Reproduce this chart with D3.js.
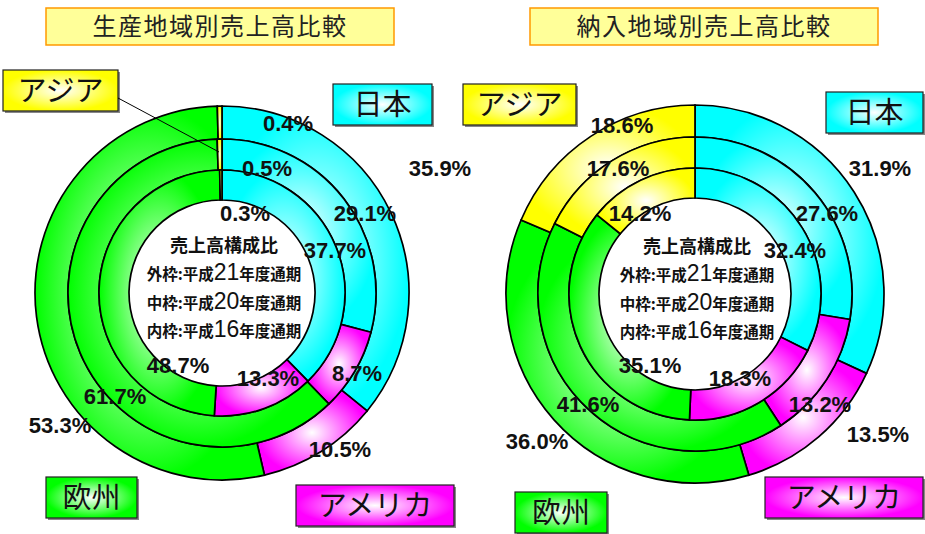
<!DOCTYPE html>
<html>
<head>
<meta charset="utf-8">
<script src="https://cdn.jsdelivr.net/npm/d3@7.9.0/dist/d3.min.js"></script>
<style>
  body { margin: 0; background: #fff; }
  svg { display: block; }
</style>
</head>
<body>
<svg id="chart" width="925" height="534"></svg>
<script>
// regions, clockwise from 12 o'clock
const regions = ['日本', 'アメリカ', '欧州', 'アジア'];
const ringNames = ['外枠', '中枠', '内枠'];
const ringYears = ['21', '20', '16'];

// 生産地域別 (outer: H21, middle: H20, inner: H16)
const seisanH21 = [35.9, 10.5, 53.3, 0.4];
const seisanH20 = [29.1, 8.7, 61.7, 0.5];
const seisanH16 = [37.7, 13.3, 48.7, 0.3];

// 納入地域別
const nounyuH21 = [31.9, 13.5, 36.0, 18.6];
const nounyuH20 = [27.6, 13.2, 41.6, 17.6];
const nounyuH16 = [32.4, 18.3, 35.1, 14.2];

const regionColors = ['#00ffff', '#ff00ff', '#00ff00', '#ffff00'];

const svg = d3.select('#chart');
const defs = svg.append('defs');

const pie = d3.pie().sort(null).value(d => d);

let gradId = 0;
function radialGrad(color, inner) {
  let id = 'g' + (gradId++);
  let g = defs.append('radialGradient').attr('id', id);
  g.append('stop').attr('offset', '0%').attr('stop-color', inner || '#ffffff');
  g.append('stop').attr('offset', '100%').attr('stop-color', color);
  return 'url(#' + id + ')';
}

// label offsets from chart centre [ring][region]
const seisanLabelPos = [
  [[218, -125], [118, 156], [-162, 132], [66, -170]],
  [[143, -80], [135, 80], [-107, 103], [45, -125]],
  [[113, -43], [46, 85], [-44, 72], [23, -80]]
];
const nounyuLabelPos = [
  [[185, -126], [183, 140], [-158, 147], [-73, -169]],
  [[132, -81], [125, 110], [-107, 110], [-77, -126]],
  [[100, -44], [45, 84], [-45, 71], [-55, -81]]
];

function drawChart(cfg) {
  let g = svg.append('g').attr('transform', `translate(${cfg.cx},${cfg.cy})`);
  let radii = cfg.radii;
  cfg.rings.forEach((vals, ri) => {
    let arc = d3.arc().innerRadius(radii[ri + 1]).outerRadius(radii[ri]);
    g.selectAll(null)
      .data(pie(vals))
      .enter()
      .append('path')
      .attr('d', arc)
      .attr('fill', (d, i) => radialGrad(regionColors[i]))
      .attr('stroke', '#000')
      .attr('stroke-width', 1.7);
  });

  // percentage labels
  cfg.rings.forEach((vals, ri) => {
    vals.forEach((v, i) => {
      let p = cfg.labelPos[ri][i];
      g.append('text')
        .attr('x', p[0]).attr('y', p[1])
        .attr('text-anchor', 'middle')
        .attr('dominant-baseline', 'central')
        .attr('font-family', '"Liberation Sans", Arial, sans-serif')
        .attr('font-weight', 'bold')
        .attr('font-size', 22)
        .attr('fill', '#111')
        .text(v.toFixed(1) + '%');
    });
  });

  // centre caption
  g.append('text')
    .attr('x', 2).attr('y', -41)
    .attr('text-anchor', 'middle')
    .attr('font-family', '"Noto Sans CJK JP", sans-serif')
    .attr('font-weight', 'bold')
    .attr('font-size', 18)
    .attr('fill', '#111')
    .text('売上高構成比');
  ringNames.forEach((n, i) => {
    let t = g.append('text')
      .attr('x', 2).attr('y', -13 + i * 28.5)
      .attr('text-anchor', 'middle')
      .attr('font-family', '"Noto Sans CJK JP", sans-serif')
      .attr('font-weight', 'bold')
      .attr('font-size', 15.5)
      .attr('fill', '#111');
    t.append('tspan').text(n + ':平成');
    t.append('tspan')
      .attr('font-family', '"Liberation Sans", Arial, sans-serif')
      .attr('font-weight', 'normal')
      .attr('font-size', 23)
      .text(ringYears[i]);
    t.append('tspan').text('年度通期');
  });

  // title box
  svg.append('rect')
    .attr('x', cfg.title.x).attr('y', 8)
    .attr('width', 348).attr('height', 37)
    .attr('fill', '#ffff99')
    .attr('stroke', '#ff9900')
    .attr('stroke-width', 1.5);
  svg.append('text')
    .attr('x', cfg.title.x + 174).attr('y', 35)
    .attr('text-anchor', 'middle')
    .attr('font-family', '"Noto Sans CJK JP", sans-serif')
    .attr('font-size', 24)
    .attr('letter-spacing', 1.5)
    .attr('fill', '#222')
    .text(cfg.title.text);

  // region label boxes
  cfg.boxes.forEach((b, i) => {
    svg.append('rect')
      .attr('x', b[0] + 2).attr('y', b[1] + 2)
      .attr('width', b[2]).attr('height', 41)
      .attr('fill', '#888');
    svg.append('rect')
      .attr('x', b[0]).attr('y', b[1])
      .attr('width', b[2]).attr('height', 41)
      .attr('fill', radialGrad(regionColors[i]))
      .attr('stroke', '#222')
      .attr('stroke-width', 1.2);
    svg.append('text')
      .attr('x', b[0] + b[2] / 2).attr('y', b[1] + 31)
      .attr('text-anchor', 'middle')
      .attr('font-family', '"Noto Sans CJK JP", sans-serif')
      .attr('font-size', 29)
      .attr('fill', '#111')
      .text(regions[i]);
  });
}

drawChart({
  cx: 222, cy: 293,
  radii: [187, 154, 123, 93],
  rings: [seisanH21, seisanH20, seisanH16],
  labelPos: seisanLabelPos,
  title: { x: 46, text: '生産地域別売上高比較' },
  boxes: [[333, 84, 99], [296, 485, 158], [46, 477, 91], [3, 70, 115]]
});

drawChart({
  cx: 695, cy: 294,
  radii: [189, 157, 126, 96],
  rings: [nounyuH21, nounyuH20, nounyuH16],
  labelPos: nounyuLabelPos,
  title: { x: 530, text: '納入地域別売上高比較' },
  boxes: [[826, 92, 97], [765, 477, 158], [515, 492, 92], [463, 84, 113]]
});

// leader line from the アジア box to the thin slice on the left chart
svg.append('line')
  .attr('x1', 118).attr('y1', 98)
  .attr('x2', 219).attr('y2', 152)
  .attr('stroke', '#000')
  .attr('stroke-width', 1);
</script>
</body>
</html>
